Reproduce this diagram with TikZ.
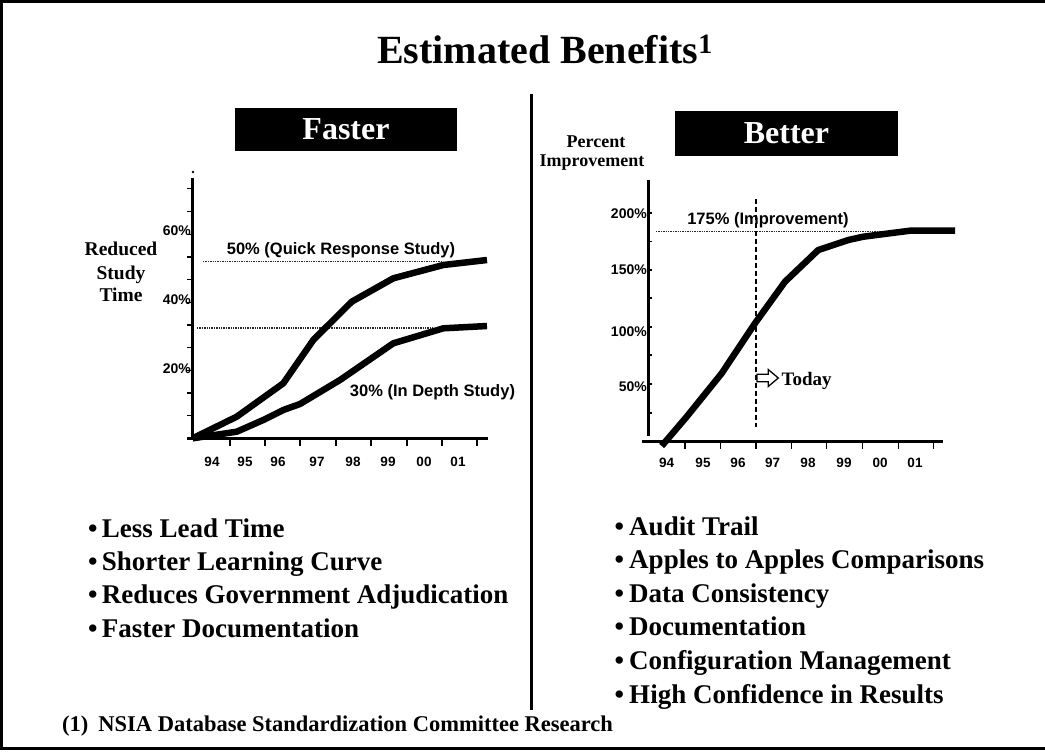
\documentclass[tikz,border=0pt]{standalone}
\usepackage{fontspec}
\setmainfont{Liberation Serif}
\newfontfamily\hv{Liberation Sans}
\begin{document}
\begin{tikzpicture}[x=1pt,y=-1pt,
  frame/.style={line width=2.5pt},
  axisline/.style={line width=2.7pt},
  tickline/.style={line width=1.3pt},
  curveline/.style={line width=6.5pt, line join=round},
  refline/.style={line width=1.4pt, densely dotted, black!85},
  todayline/.style={line width=1.5pt, dash pattern=on 5pt off 3pt},
  hdr/.style={fill=black, text=white, inner sep=0pt, font=\bfseries\fontsize{32}{32}\selectfont},
  ylbl/.style={anchor=east, inner sep=0pt, font=\hv\bfseries\fontsize{14}{14}\selectfont},
  xlbl/.style={inner sep=0pt, font=\hv\bfseries\fontsize{13.5}{13.5}\selectfont},
  clbl/.style={anchor=base, inner sep=0pt, font=\hv\bfseries\fontsize{16.5}{16.5}\selectfont},
  axtitle/.style={anchor=base, inner sep=0pt, font=\bfseries\fontsize{19.5}{19.5}\selectfont},
  smalltitle/.style={anchor=base, inner sep=0pt, font=\bfseries\fontsize{18}{18}\selectfont},
  bulletline/.style={anchor=base west, inner sep=0pt, font=\bfseries\fontsize{27}{27}\selectfont},
  footnote/.style={anchor=base west, inner sep=0pt, font=\bfseries\fontsize{22.5}{22.5}\selectfont}
]
\useasboundingbox (0,0) rectangle (1045,753);
\fill[white] (0,0) rectangle (1045,753);

% frame
\coordinate (ftr) at (1045,1.5);
\coordinate (ftl) at (1.5,1.5);
\coordinate (fbl) at (1.5,748.5);
\coordinate (fbr) at (1045,748.5);
\draw[frame] (ftr) -- (ftl) -- (fbl) -- (fbr);

% title
\node[anchor=base west, inner sep=0pt, font=\bfseries\fontsize{40}{48}\selectfont] (title) at (377,63) {Estimated Benefits\textsuperscript{1}};

% divider
\coordinate (dtop) at (531.5,94);
\coordinate (dbot) at (531.5,710);
\draw[line width=2.5pt] (dtop) -- (dbot);

% header boxes
\node[hdr, minimum width=222pt, minimum height=43pt] (faster) at (346,129.5) {Faster};
\node[hdr, minimum width=223pt, minimum height=45pt] (better) at (786.5,133.5) {Better};

% ===== left chart =====
\coordinate (lyt) at (192.5,178);
\coordinate (lyb) at (192.5,440);
\coordinate (lxl) at (187,438.5);
\coordinate (lxr) at (488,438.5);
\draw[axisline] (lyt) -- (lyb);
\draw[axisline] (lxl) -- (lxr);
\fill (193,172) circle[radius=1.4pt];
\foreach \k in {1,...,11} \draw[tickline] (187,{438.5-22.7*\k}) -- (192.5,{438.5-22.7*\k});
\foreach \x in {230,265,300,336,371,407,442,477} \draw[tickline] (\x,438.5) -- (\x,446);
\foreach \x/\t in {212/94,245/95,278/96,317/97,353/98,388/99,424/00,458/01}
  \node[xlbl] (lx\t) at (\x,462) {\t};
\node[ylbl] (l60) at (191,231) {60\%};
\node[ylbl] (l40) at (191,300) {40\%};
\node[ylbl] (l20) at (191,369) {20\%};
\node[axtitle] (red1) at (121,255) {Reduced};
\node[axtitle] (red2) at (121,279) {Study};
\node[axtitle] (red3) at (121,301.5) {Time};

\coordinate (q1) at (203,261.5);
\coordinate (q2) at (443,261.5);
\draw[refline] (q1) -- (q2);
\coordinate (d1) at (197,328);
\coordinate (d2) at (433,328);
\draw[refline] (d1) -- (d2);

\draw[curveline] (192.7,438.3) -- (236.7,416.7) -- (283.3,383.3) -- (313.3,340) -- (351.7,301.7) -- (393.3,278.3) -- (443.3,265) -- (487,260);
\draw[curveline] (192.7,438.3) -- (236.7,431.7) -- (263.3,420) -- (283.3,410) -- (300,404) -- (340,380) -- (393.3,343.3) -- (443.3,328.3) -- (487,326);

\node[clbl] (quick) at (341,254.5) {50\% (Quick Response Study)};
\node[clbl] (depth) at (432.5,396) {30\% (In Depth Study)};

% ===== right chart =====
\coordinate (ryt) at (648.5,180);
\coordinate (ryb) at (648.5,436);
\coordinate (rxl) at (641.7,441.7);
\coordinate (rxr) at (943,441.7);
\draw[axisline] (ryt) -- (ryb);
\draw[axisline] (rxl) -- (rxr);
\foreach \y in {213,241.7,270,298,327,355,384,413} \draw[tickline] (648.5,\y) -- (652,\y);
\foreach \x in {685,720.7,756,791.7,826.7,862.7,898.3,933.3} \draw[tickline] (\x,441.7) -- (\x,449);
\foreach \x/\t in {666.7/94,703/95,738/96,772.7/97,808/98,844/99,880/00,915/01}
  \node[xlbl] (rx\t) at (\x,463) {\t};
\node[ylbl] (r200) at (647,213.3) {200\%};
\node[ylbl] (r150) at (647,270) {150\%};
\node[ylbl] (r100) at (647,332) {100\%};
\node[ylbl] (r50) at (647,386.7) {50\%};
\node[smalltitle] (pct1) at (596,147) {Percent};
\node[smalltitle] (pct2) at (592,166.7) {Improvement};

\coordinate (i1) at (656,231.7);
\coordinate (i2) at (955,231.7);
\draw[refline] (i1) -- (i2);
\node[clbl] (impr) at (768,224.3) {175\% (Improvement)};

\coordinate (t1) at (756,199.3);
\coordinate (t2) at (756,426.7);
\draw[todayline] (t1) -- (t2);

\draw[curveline] (661.7,446) -- (686.7,416.7) -- (721.7,373.3) -- (755,323.3) -- (785,281.7) -- (818.3,250) -- (848.3,240) -- (863.3,236.7) -- (910,230.7) -- (955,230.7);

\draw[line width=1.3pt, line join=miter, fill=white] (757,374.2) -- (768.3,374.2) -- (768.3,369.6) -- (778.3,378) -- (768.3,386.4) -- (768.3,381.8) -- (757,381.8) -- cycle;
\node[anchor=base west, inner sep=0pt, font=\bfseries\fontsize{19}{19}\selectfont] (today) at (781.5,385) {Today};

% ===== bullets =====
\node[bulletline] (b1) at (88,537) {\textbullet\hspace{4.3pt}Less Lead Time};
\node[bulletline] (b2) at (88,570) {\textbullet\hspace{4.3pt}Shorter Learning Curve};
\node[bulletline] (b3) at (88,603.3) {\textbullet\hspace{4.3pt}Reduces Government Adjudication};
\node[bulletline] (b4) at (88,637) {\textbullet\hspace{4.3pt}Faster Documentation};

\node[bulletline] (c1) at (614.3,535) {\textbullet\hspace{5.3pt}Audit Trail};
\node[bulletline] (c2) at (614.3,568.5) {\textbullet\hspace{5.3pt}Apples to Apples Comparisons};
\node[bulletline] (c3) at (614.3,602) {\textbullet\hspace{5.3pt}Data Consistency};
\node[bulletline] (c4) at (614.3,635.5) {\textbullet\hspace{5.3pt}Documentation};
\node[bulletline] (c5) at (614.3,669.5) {\textbullet\hspace{5.3pt}Configuration Management};
\node[bulletline] (c6) at (614.3,703) {\textbullet\hspace{5.3pt}High Confidence in Results};

\node[footnote] (fn) at (62,731.5) {(1)\hspace{10pt}NSIA Database Standardization Committee Research};
\end{tikzpicture}
\end{document}
